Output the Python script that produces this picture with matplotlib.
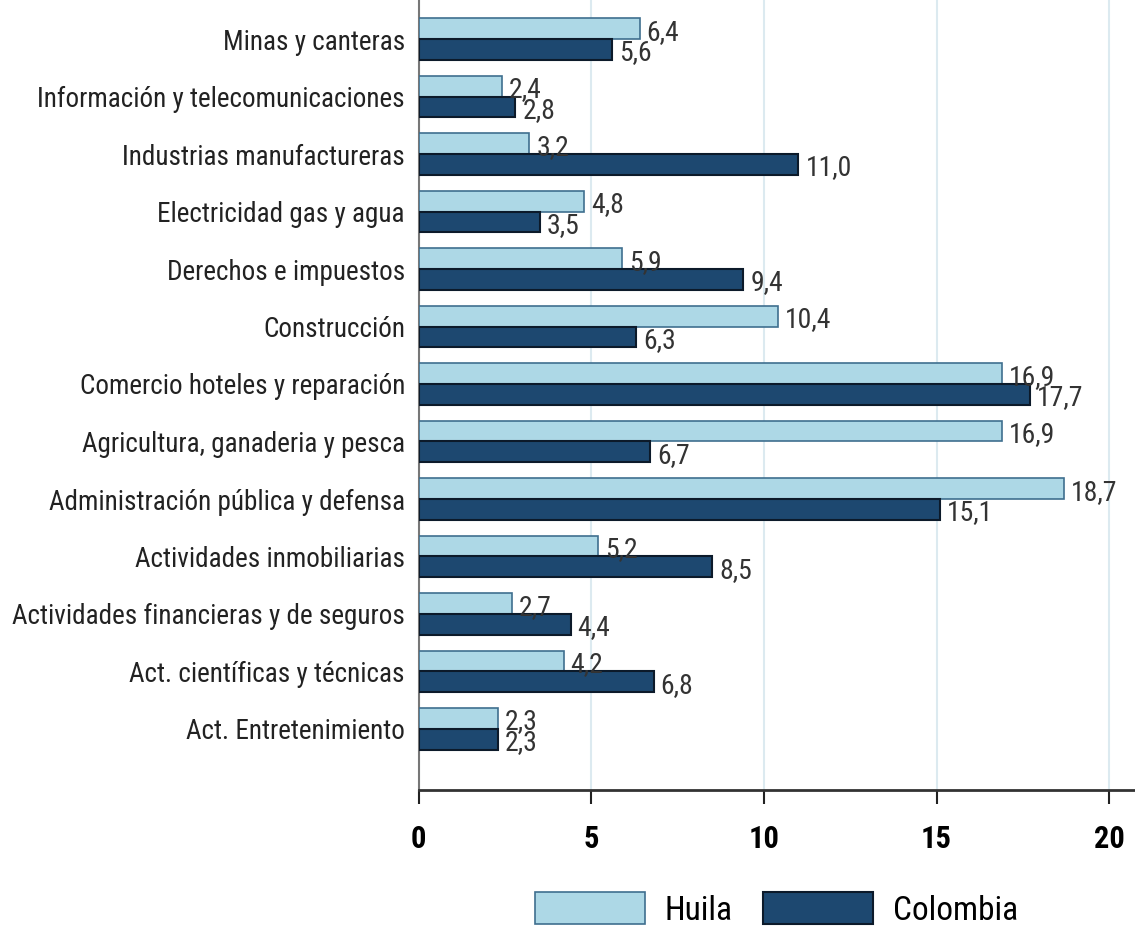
import numpy as np
import matplotlib.pyplot as plt
from matplotlib import font_manager

categories = ['Minas y canteras', 'Información y telecomunicaciones',
              'Industrias manufactureras', 'Electricidad gas y agua',
              'Derechos e impuestos', 'Construcción',
              'Comercio hoteles y reparación', 'Agricultura, ganaderia y pesca',
              'Administración pública y defensa', 'Actividades inmobiliarias',
              'Actividades financieras y de seguros',
              'Act. científicas y técnicas', 'Act. Entretenimiento']
huila = [6.4, 2.4, 3.2, 4.8, 5.9, 10.4, 16.9, 16.9, 18.7, 5.2, 2.7, 4.2, 2.3]
colombia = [5.6, 2.8, 11.0, 3.5, 9.4, 6.3, 17.7, 6.7, 15.1, 8.5, 4.4, 6.8, 2.3]
xticks = [0, 5, 10, 15, 20]

# narrow font like the original, if there is one
names = {f.name for f in font_manager.fontManager.ttflist}
fam = 'Liberation Sans'
for cand in ['Liberation Sans Narrow', 'Roboto Condensed', 'PT Sans Narrow']:
    if cand in names:
        fam = cand
        break
plt.rcParams['font.family'] = [fam, 'DejaVu Sans']

fig = plt.figure(figsize=(11.35, 9.31), dpi=100)
ax = fig.add_axes([0.369, 0.151, 0.631, 0.849])

y = np.arange(len(categories))
h = 0.36
ax.barh(y - h / 2, huila, height=h, color='#add8e6', edgecolor='#3f6f8f',
        linewidth=1.2, label='Huila', zorder=3)
ax.barh(y + h / 2, colombia, height=h, color='#1d4870', edgecolor='#0c1a2a',
        linewidth=1.5, label='Colombia', zorder=3)

for i in range(len(categories)):
    ax.text(huila[i] + 0.2, y[i] - h / 2 + 0.06, f'{huila[i]:.1f}'.replace('.', ','),
            va='center', ha='left', fontsize=20, color='#333333')
    ax.text(colombia[i] + 0.2, y[i] + h / 2 + 0.06, f'{colombia[i]:.1f}'.replace('.', ','),
            va='center', ha='left', fontsize=20, color='#333333')

ax.set_yticks(y)
ax.set_yticklabels(categories, fontsize=19.5, color='#222222')
ax.set_ylim(len(categories) - 1 + 1.07, -0.68)
ax.set_xlim(0, 20.75)
ax.set_xticks(xticks)
ax.set_xticklabels([str(t) for t in xticks], fontsize=22, fontweight='bold')
ax.tick_params(axis='y', length=0, pad=10)
ax.tick_params(axis='x', length=10, width=1.5, pad=14, color='#222222')
ax.grid(axis='x', color='#dceaf0', linewidth=1.5, zorder=0)
for s in ['top', 'right']:
    ax.spines[s].set_visible(False)
ax.spines['left'].set_color('#777777')
ax.spines['left'].set_linewidth(1.5)
ax.spines['bottom'].set_color('#333333')
ax.spines['bottom'].set_linewidth(2)

fig.legend(loc='center', bbox_to_anchor=(0.684, 0.023), ncol=2, frameon=False,
           fontsize=24, handlelength=3.3, handleheight=1.1, columnspacing=0.9,
           handletextpad=0.6)

fig.savefig('out.png', dpi=100)
